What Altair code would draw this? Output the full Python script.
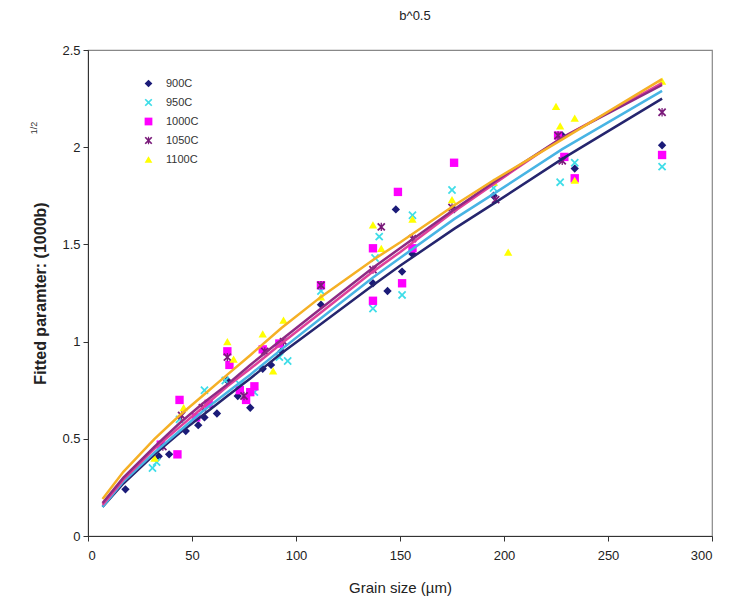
import altair as alt
import pandas as pd

series = ["900C", "950C", "1000C", "1050C", "1100C"]
marker_colors = ["#1B1B78", "#3FDDE8", "#FF00FF", "#7A1A7A", "#FFFF00"]
line_colors = ["#25256E", "#48B4E4", "#E0409A", "#8E2A84", "#F5B025"]

# Measured points (grain size in µm, fitted parameter (1000b)^1/2)
x_900 = [18, 34, 39, 47, 53, 56, 62, 67, 72, 78, 84, 88, 93, 112, 137, 144, 148, 151, 156, 176, 195, 228, 234, 276]
y_900 = [0.24, 0.41, 0.42, 0.54, 0.57, 0.61, 0.63, 0.80, 0.72, 0.66, 0.86, 0.88, 0.95, 1.19, 1.30, 1.26, 1.68, 1.36, 1.45, 1.68, 1.75, 2.06, 1.89, 2.01]

x_950 = [31, 33, 44, 56, 66, 73, 80, 92, 96, 112, 137, 138, 140, 151, 156, 175, 195, 227, 234, 276]
y_950 = [0.35, 0.38, 0.60, 0.75, 0.80, 0.78, 0.74, 0.92, 0.90, 1.26, 1.17, 1.43, 1.54, 1.24, 1.65, 1.78, 1.79, 1.82, 1.92, 1.90]

x_1000 = [35, 43, 44, 52, 58, 67, 68, 73, 76, 78, 80, 84, 92, 112, 137, 137, 149, 151, 156, 176, 226, 229, 234, 276]
y_1000 = [0.47, 0.42, 0.70, 0.61, 0.68, 0.95, 0.88, 0.75, 0.70, 0.74, 0.77, 0.96, 0.99, 1.29, 1.48, 1.21, 1.77, 1.30, 1.48, 1.92, 2.06, 1.95, 1.84, 1.96]

x_1050 = [36, 45, 55, 67, 75, 85, 94, 112, 137, 141, 156, 175, 196, 226, 228, 276]
y_1050 = [0.46, 0.62, 0.66, 0.92, 0.72, 0.95, 1.00, 1.29, 1.37, 1.59, 1.53, 1.69, 1.73, 2.06, 1.93, 2.18]

x_1100 = [32, 46, 67, 70, 84, 89, 94, 112, 137, 141, 156, 175, 195, 202, 225, 227, 234, 234, 276]
y_1100 = [0.40, 0.66, 1.00, 0.91, 1.04, 0.85, 1.11, 1.23, 1.60, 1.48, 1.63, 1.73, 1.82, 1.46, 2.21, 2.11, 2.15, 1.83, 2.34]

# Fitted curves
fit_x = [7, 17, 32, 44, 55, 67, 78, 93, 112, 137, 150, 176, 195, 228, 276]
fit_900 = [0.15, 0.27, 0.42, 0.53, 0.62, 0.72, 0.81, 0.94, 1.09, 1.29, 1.39, 1.58, 1.71, 1.94, 2.25]
fit_950 = [0.15, 0.28, 0.43, 0.54, 0.64, 0.74, 0.83, 0.96, 1.12, 1.33, 1.43, 1.63, 1.76, 1.99, 2.29]
fit_1000 = [0.16, 0.29, 0.45, 0.56, 0.66, 0.77, 0.86, 0.99, 1.15, 1.36, 1.46, 1.67, 1.81, 2.05, 2.33]
fit_1050 = [0.17, 0.30, 0.46, 0.58, 0.68, 0.78, 0.88, 1.01, 1.17, 1.38, 1.48, 1.68, 1.82, 2.05, 2.32]
fit_1100 = [0.19, 0.33, 0.50, 0.62, 0.72, 0.83, 0.93, 1.07, 1.23, 1.42, 1.51, 1.70, 1.83, 2.04, 2.35]

xs = [x_900, x_950, x_1000, x_1050, x_1100]
ys = [y_900, y_950, y_1000, y_1050, y_1100]
fits = [fit_900, fit_950, fit_1000, fit_1050, fit_1100]

pts = pd.DataFrame(
    [{"g": gx, "v": gy, "T": s} for s, xl, yl in zip(series, xs, ys) for gx, gy in zip(xl, yl)]
)
lines = pd.DataFrame(
    [{"g": gx, "v": gy, "F": "fit " + s} for s, fl in zip(series, fits) for gx, gy in zip(fit_x, fl)]
)

x_shape = "M-1,-0.7L-0.7,-1L0,-0.3L0.7,-1L1,-0.7L0.3,0L1,0.7L0.7,1L0,0.3L-0.7,1L-1,0.7L-0.3,0Z"
star_shape = x_shape + "M-0.15,-1L0.15,-1L0.15,1L-0.15,1Z"
shapes = ["diamond", x_shape, "square", star_shape, "triangle-up"]

xscale = alt.Scale(domain=[0, 300], nice=False)
yscale = alt.Scale(domain=[0, 2.5], nice=False)

xaxis = alt.Axis(title="Grain size (\u00b5m)", values=[0, 50, 100, 150, 200, 250, 300],
                 titleFontSize=15, titleFontWeight="normal", titlePadding=18, labelPadding=8,
                 labelFontSize=13, format="d")
yaxis = alt.Axis(title="Fitted paramter: (1000b)", values=[0, 0.5, 1, 1.5, 2, 2.5],
                 titleFontSize=16, titleFontWeight="bold", titlePadding=13, labelFontSize=13,
                 format=".2~f")

points = alt.Chart(pts).mark_point(filled=True, opacity=1, size=70).encode(
    x=alt.X("g:Q", scale=xscale, axis=xaxis),
    y=alt.Y("v:Q", scale=yscale, axis=yaxis),
    color=alt.Color("T:N", scale=alt.Scale(domain=series, range=marker_colors),
                    legend=alt.Legend(orient="none", legendX=55, legendY=28, title=None,
                                      labelFontSize=11, labelColor="#333", symbolSize=60,
                                      rowPadding=7, padding=0, labelOffset=12)),
    shape=alt.Shape("T:N", scale=alt.Scale(domain=series, range=shapes)),
)

fit_lines = alt.Chart(lines).mark_line(strokeWidth=2.5).encode(
    x=alt.X("g:Q", scale=xscale),
    y=alt.Y("v:Q", scale=yscale),
    color=alt.Color("F:N", scale=alt.Scale(domain=["fit " + s for s in series][::-1],
                                           range=line_colors[::-1]), legend=None),
    order=alt.Order("g:Q"),
    detail="F:N",
)

sup = alt.Chart(pd.DataFrame({"t": ["1/2"]})).mark_text(
    angle=270, fontSize=9, font="Liberation Sans", color="#333"
).encode(x=alt.value(-54), y=alt.value(78), text="t:N")

chart = alt.layer(points, fit_lines, sup).resolve_scale(color="independent", shape="independent").properties(
    width=624, height=486,
    padding={"left": 80, "top": 42, "right": 25, "bottom": 60},
    autosize="none",
    title=alt.TitleParams("b^0.5", fontSize=13, fontWeight="normal", dx=15, offset=21, color="#222",
                          font="Liberation Sans"),
).configure_view(stroke="#888", strokeWidth=1.2).configure_axis(
    grid=False, domainColor="#333", tickColor="#333", labelColor="#222",
    labelFont="Liberation Sans", titleFont="Liberation Sans", titleColor="#222",
    labelFontSize=12, tickSize=5, labelPadding=3,
).configure_legend(labelFont="Liberation Sans")

chart.save("out.html", embed_options={"renderer": "svg", "actions": False})
